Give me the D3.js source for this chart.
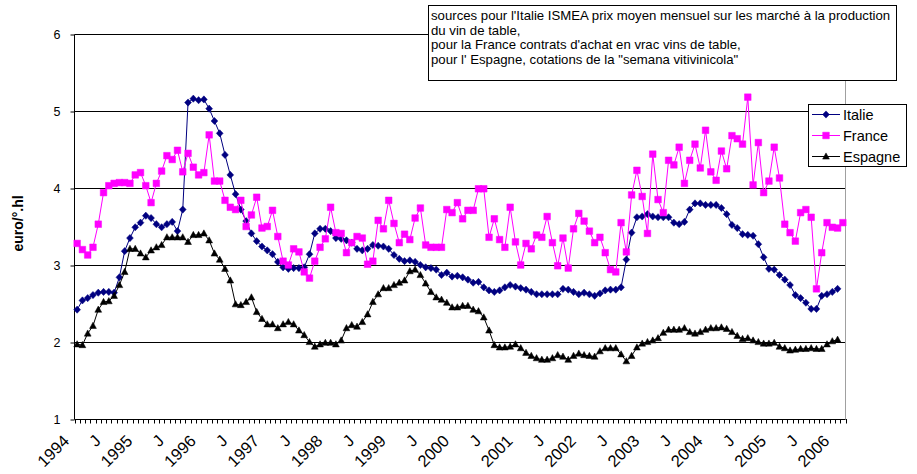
<!DOCTYPE html>
<html><head><meta charset="utf-8">
<script src="https://cdn.jsdelivr.net/npm/d3@7"></script>
<style>body{margin:0;background:#fff} svg{display:block}</style>
</head><body><svg id="c" width="917" height="474"></svg>
<script>
const years = [1994,1995,1996,1997,1998,1999,2000,2001,2002,2003,2004,2005,2006];
const julyLabel = "J";
const monthCount = 146;
const italie = [2.42,2.54,2.57,2.61,2.64,2.65,2.65,2.64,2.84,3.18,3.35,3.49,3.55,3.64,3.61,3.53,3.49,3.53,3.56,3.44,3.72,5.11,5.16,5.14,5.15,5.03,4.87,4.71,4.43,4.17,
3.92,3.72,3.57,3.41,3.31,3.24,3.19,3.14,3.04,2.97,2.95,2.96,2.96,2.97,3.14,3.41,3.47,3.47,3.44,3.35,3.34,3.32,3.29,3.21,3.19,3.21,3.26,3.25,3.24,3.21,
3.13,3.08,3.05,3.06,3.04,3.00,2.97,2.96,2.94,2.87,2.90,2.85,2.86,2.84,2.81,2.77,2.78,2.71,2.67,2.65,2.67,2.71,2.74,2.72,2.70,2.68,2.65,2.62,2.62,2.62,
2.62,2.62,2.69,2.68,2.65,2.62,2.64,2.62,2.60,2.63,2.67,2.68,2.68,2.71,3.07,3.42,3.62,3.63,3.66,3.63,3.62,3.62,3.62,3.55,3.53,3.56,3.72,3.80,3.80,3.78,
3.78,3.78,3.74,3.66,3.52,3.48,3.40,3.39,3.38,3.27,3.10,2.95,2.94,2.87,2.81,2.74,2.61,2.57,2.51,2.43,2.43,2.60,2.62,2.65,2.69];
const france = [3.28,3.20,3.13,3.23,3.53,3.94,4.03,4.06,4.07,4.07,4.06,4.17,4.20,4.03,3.81,4.06,4.22,4.42,4.37,4.49,4.21,4.45,4.27,4.17,4.20,4.69,4.09,4.09,3.84,3.75,
3.72,3.84,3.50,3.65,3.88,3.48,3.50,3.71,3.37,3.05,3.00,3.21,3.17,2.91,2.83,3.05,3.23,3.34,3.75,3.42,3.41,3.16,3.29,3.37,3.35,3.01,3.05,3.58,3.47,3.84,
3.54,3.29,3.40,3.33,3.61,3.74,3.26,3.23,3.23,3.23,3.72,3.68,3.81,3.60,3.71,3.71,3.99,3.99,3.36,3.60,3.33,3.23,3.75,3.30,3.00,3.28,3.21,3.39,3.36,3.63,
3.29,2.99,3.35,2.96,3.47,3.67,3.57,3.44,3.29,3.36,3.16,2.94,2.91,3.55,3.17,3.91,4.23,3.89,3.41,4.44,3.85,3.68,4.36,4.30,4.53,4.06,4.36,4.57,4.26,4.75,
4.21,4.10,4.48,4.25,4.68,4.64,4.57,5.18,4.04,4.59,3.94,4.09,4.53,4.13,3.53,3.42,3.31,3.68,3.72,3.62,2.69,3.16,3.55,3.49,3.48,3.55];
const espagne = [1.97,1.96,2.11,2.21,2.42,2.52,2.53,2.60,2.74,2.91,3.21,3.21,3.15,3.10,3.19,3.23,3.26,3.36,3.36,3.36,3.36,3.30,3.39,3.39,3.41,3.32,3.15,3.07,2.95,2.80,
2.49,2.48,2.52,2.58,2.39,2.30,2.23,2.23,2.18,2.23,2.26,2.23,2.15,2.09,2.00,1.94,1.97,1.99,1.99,1.97,2.02,2.18,2.22,2.20,2.26,2.36,2.52,2.62,2.70,2.70,
2.74,2.77,2.80,2.92,2.94,2.87,2.76,2.65,2.58,2.55,2.51,2.45,2.45,2.47,2.47,2.42,2.40,2.32,2.15,1.96,1.93,1.93,1.94,1.97,1.92,1.86,1.82,1.79,1.77,1.77,
1.79,1.83,1.81,1.77,1.82,1.85,1.83,1.82,1.81,1.88,1.92,1.92,1.92,1.84,1.75,1.82,1.93,1.98,2.00,2.02,2.05,2.12,2.16,2.16,2.16,2.18,2.13,2.11,2.13,2.16,
2.18,2.18,2.19,2.17,2.13,2.08,2.04,2.05,2.02,2.00,1.98,1.98,1.99,1.94,1.92,1.89,1.90,1.91,1.91,1.92,1.91,1.91,1.97,2.01,2.03];
const seriesNames = ["Italie","France","Espagne"];
const yTicks = [1,2,3,4,5,6];
const yTitle = "euro/°.hl";
const noteLines = [
  "sources pour l'Italie ISMEA prix moyen mensuel sur les marché à la production",
  "du vin de table,",
  "pour la France contrats d'achat en vrac vins de table,",
  "pour l' Espagne, cotations de la \"semana vitivinicola\""
];

const FONT = "'Liberation Sans', Arial, Helvetica, sans-serif";
const svg = d3.select("#c").style("font-family", FONT);
const L = 74.5, R = 845.5, T = 34, B = 419;
const months = d3.range(monthCount);
const x = d3.scaleBand().domain(months).range([L, R]);
const bw = x.bandwidth();
const y = d3.scaleLinear().domain([1, 6]).range([B, T]);
const cx = i => x(i) + bw / 2;
const monthLabel = i => (i % 12 === 0 ? String(years[i / 12]) : (i % 12 === 6 ? julyLabel : ""));

// gridlines
svg.append("g").selectAll("line").data(yTicks.slice(1)).join("line")
  .attr("x1", L).attr("x2", R)
  .attr("y1", d => Math.round(y(d)) + 0.5).attr("y2", d => Math.round(y(d)) + 0.5)
  .attr("stroke", "#000").attr("stroke-width", 1);
// right border
svg.append("line").attr("x1", R).attr("x2", R).attr("y1", T).attr("y2", B + 0.5)
  .attr("stroke", "#a0a0a0").attr("stroke-width", 1);

// y axis
const yAxis = svg.append("g").attr("transform", `translate(${L},0.5)`)
  .call(d3.axisLeft(y).tickValues(yTicks).tickSize(4).tickPadding(10).tickFormat(d3.format("d")));
yAxis.select(".domain").attr("stroke", "#000").attr("d", `M0,${T}V${B}`);
yAxis.selectAll(".tick line").attr("stroke", "#000");
yAxis.selectAll(".tick text").attr("font-family", FONT).attr("font-size", 12.5).attr("fill", "#000");

// x axis: minor ticks at every month boundary
const xg = svg.append("g");
xg.append("line").attr("x1", L).attr("x2", R).attr("y1", B + 0.5).attr("y2", B + 0.5).attr("stroke", "#000");
xg.selectAll("line.t").data(d3.range(monthCount + 1)).join("line").attr("class", "t")
  .attr("x1", i => Math.round(L + i * bw) + 0.5).attr("x2", i => Math.round(L + i * bw) + 0.5)
  .attr("y1", B).attr("y2", B + 4.5).attr("stroke", "#000");
xg.selectAll("text").data(months.filter(i => monthLabel(i) !== "")).join("text")
  .attr("transform", i => `translate(${cx(i) - 7},442) rotate(-45)`)
  .attr("text-anchor", "end").attr("font-size", 16.5).attr("fill", "#000")
  .text(i => monthLabel(i));

// y title
svg.append("text").attr("transform", `translate(23,${(T + B) / 2 - 3}) rotate(-90)`)
  .attr("text-anchor", "middle").attr("font-size", 14).attr("font-weight", "bold").text(yTitle);

// series
const styles = [
  { data: italie, color: "#000080", marker: "M0,-3.6L3.4,0L0,3.6L-3.4,0Z" },
  { data: france, color: "#ff00ff", marker: "M-3.3,-3.3H3.3V3.3H-3.3Z" },
  { data: espagne, color: "#000000", marker: "M0,-3.6L3.4,2.6L-3.4,2.6Z" }
];
const line = d3.line().x((d, i) => cx(i)).y(d => y(d));
styles.forEach(s => {
  const g = svg.append("g");
  g.append("path").datum(s.data).attr("d", line).attr("fill", "none")
    .attr("stroke", s.color).attr("stroke-width", 1);
  g.selectAll("path.m").data(s.data).join("path").attr("class", "m")
    .attr("d", s.marker).attr("transform", (d, i) => `translate(${cx(i)},${y(d)})`)
    .attr("fill", s.color).attr("stroke", s.color).attr("stroke-width", 0.5);
});

// note box
const nb = svg.append("g");
nb.append("rect").attr("x", 428.5).attr("y", 5.5).attr("width", 468).attr("height", 75)
  .attr("fill", "#fff").attr("stroke", "#000");
nb.selectAll("text").data(noteLines).join("text")
  .attr("x", 431).attr("y", (d, i) => 20 + i * 14.6).attr("font-size", 13.2).attr("fill", "#000")
  .text(d => d);

// legend
const lg = svg.append("g");
lg.append("rect").attr("x", 808.5).attr("y", 104.5).attr("width", 98).attr("height", 62)
  .attr("fill", "#fff").attr("stroke", "#000");
seriesNames.forEach((n, k) => {
  const yy = 114.5 + k * 21;
  lg.append("line").attr("x1", 812).attr("x2", 840).attr("y1", yy).attr("y2", yy)
    .attr("stroke", styles[k].color);
  lg.append("path").attr("d", styles[k].marker).attr("transform", `translate(826,${yy})`)
    .attr("fill", styles[k].color).attr("stroke", styles[k].color).attr("stroke-width", 0.5);
  lg.append("text").attr("x", 843).attr("y", yy).attr("dy", "0.36em").attr("font-size", 14.5).text(n);
});
</script></body></html>
